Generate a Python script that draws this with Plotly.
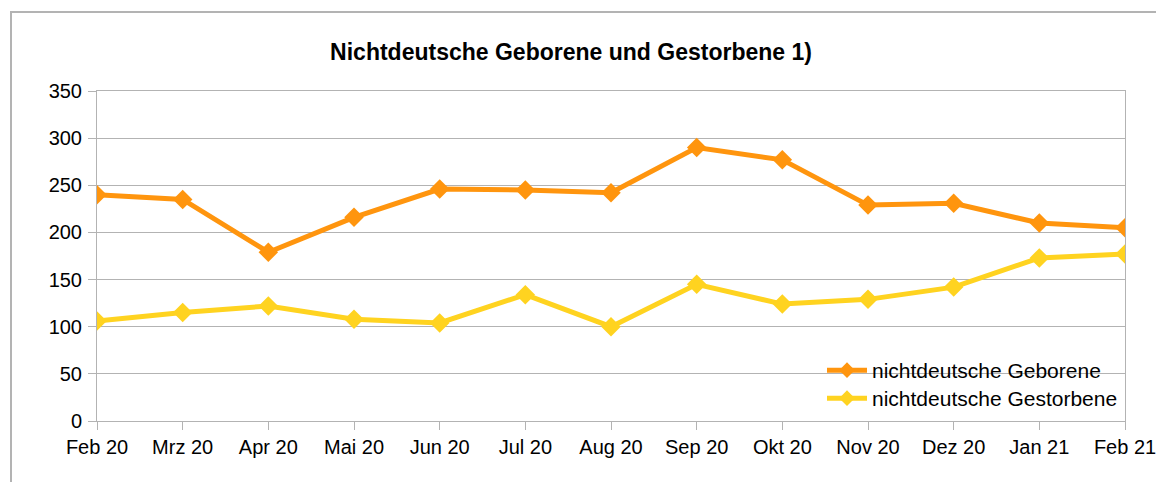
import plotly.graph_objects as go

months = ["Feb 20", "Mrz 20", "Apr 20", "Mai 20", "Jun 20", "Jul 20", "Aug 20",
          "Sep 20", "Okt 20", "Nov 20", "Dez 20", "Jan 21", "Feb 21"]
geborene = [240, 235, 179, 216, 246, 245, 242, 290, 277, 229, 231, 210, 205]
gestorbene = [106, 115, 122, 108, 104, 134, 100, 145, 124, 129, 142, 173, 177]
y_ticks = [0, 50, 100, 150, 200, 250, 300, 350]

W, H = 1156, 482
L, T = 97, 91
B = H - 421
R = W - 1125
pw, ph = W - L - R, H - T - B

def px_x(p):  # page x -> paper
    return (p - L) / pw

def px_y(p):  # page y -> paper
    return (H - B - p) / ph

fig = go.Figure()
fig.add_trace(go.Scatter(x=months, y=geborene, name="nichtdeutsche Geborene",
                         mode="lines+markers", legend="legend",
                         line=dict(color="#ff950e", width=5),
                         marker=dict(symbol="diamond", size=15, color="#ff950e")))
fig.add_trace(go.Scatter(x=months, y=gestorbene, name="nichtdeutsche Gestorbene",
                         mode="lines+markers", legend="legend2",
                         line=dict(color="#ffd320", width=5),
                         marker=dict(symbol="diamond", size=15, color="#ffd320")))

font = "Liberation Sans, Arial, sans-serif"
leg_common = dict(xanchor="left", yanchor="top", bgcolor="rgba(0,0,0,0)",
                  font=dict(family=font, size=21, color="#000000"),
                  itemwidth=40, itemsizing="constant")
fig.update_layout(
    width=W, height=H,
    margin=dict(l=L, r=R, t=T, b=B, autoexpand=False),
    paper_bgcolor="white", plot_bgcolor="white",
    font=dict(family=font, size=20, color="#000000"),
    title=dict(text="<b>Nichtdeutsche Geborene und Gestorbene 1)</b>",
               x=px_x(571), xref="paper", xanchor="center",
               y=1 - 52 / H, yanchor="middle",
               font=dict(family=font, size=23, color="#000000")),
    showlegend=True,
    legend=dict(x=px_x(822), y=px_y(350), **leg_common),
    legend2=dict(x=px_x(822), y=px_y(378), **leg_common),
    xaxis=dict(type="category", range=[0, len(months) - 1], automargin=False,
               showgrid=False, showline=True, linecolor="#b3b3b3", linewidth=1,
               mirror=True, ticks="outside", ticklen=8, tickcolor="#b3b3b3",
               tickfont=dict(size=20), fixedrange=True),
    yaxis=dict(range=[0, 350], tickvals=y_ticks, showgrid=True, automargin=False,
               gridcolor="#b3b3b3", gridwidth=1, zeroline=False,
               showline=True, linecolor="#b3b3b3", linewidth=1, mirror=True,
               ticks="outside", ticklen=8, tickcolor="#b3b3b3",
               ticklabelstandoff=2,
               tickfont=dict(size=20), fixedrange=True),
    shapes=[dict(type="rect", xref="paper", yref="paper",
                 x0=px_x(11), x1=px_x(1190),
                 y0=px_y(520), y1=px_y(12),
                 line=dict(color="#b3b3b3", width=2), fillcolor="rgba(0,0,0,0)",
                 layer="below")],
)
fig.write_html("out.html", config={"displayModeBar": False},
               post_script="document.body.style.margin='0';"
                           "document.body.style.overflow='hidden';"
                           "document.documentElement.style.overflow='hidden';")
